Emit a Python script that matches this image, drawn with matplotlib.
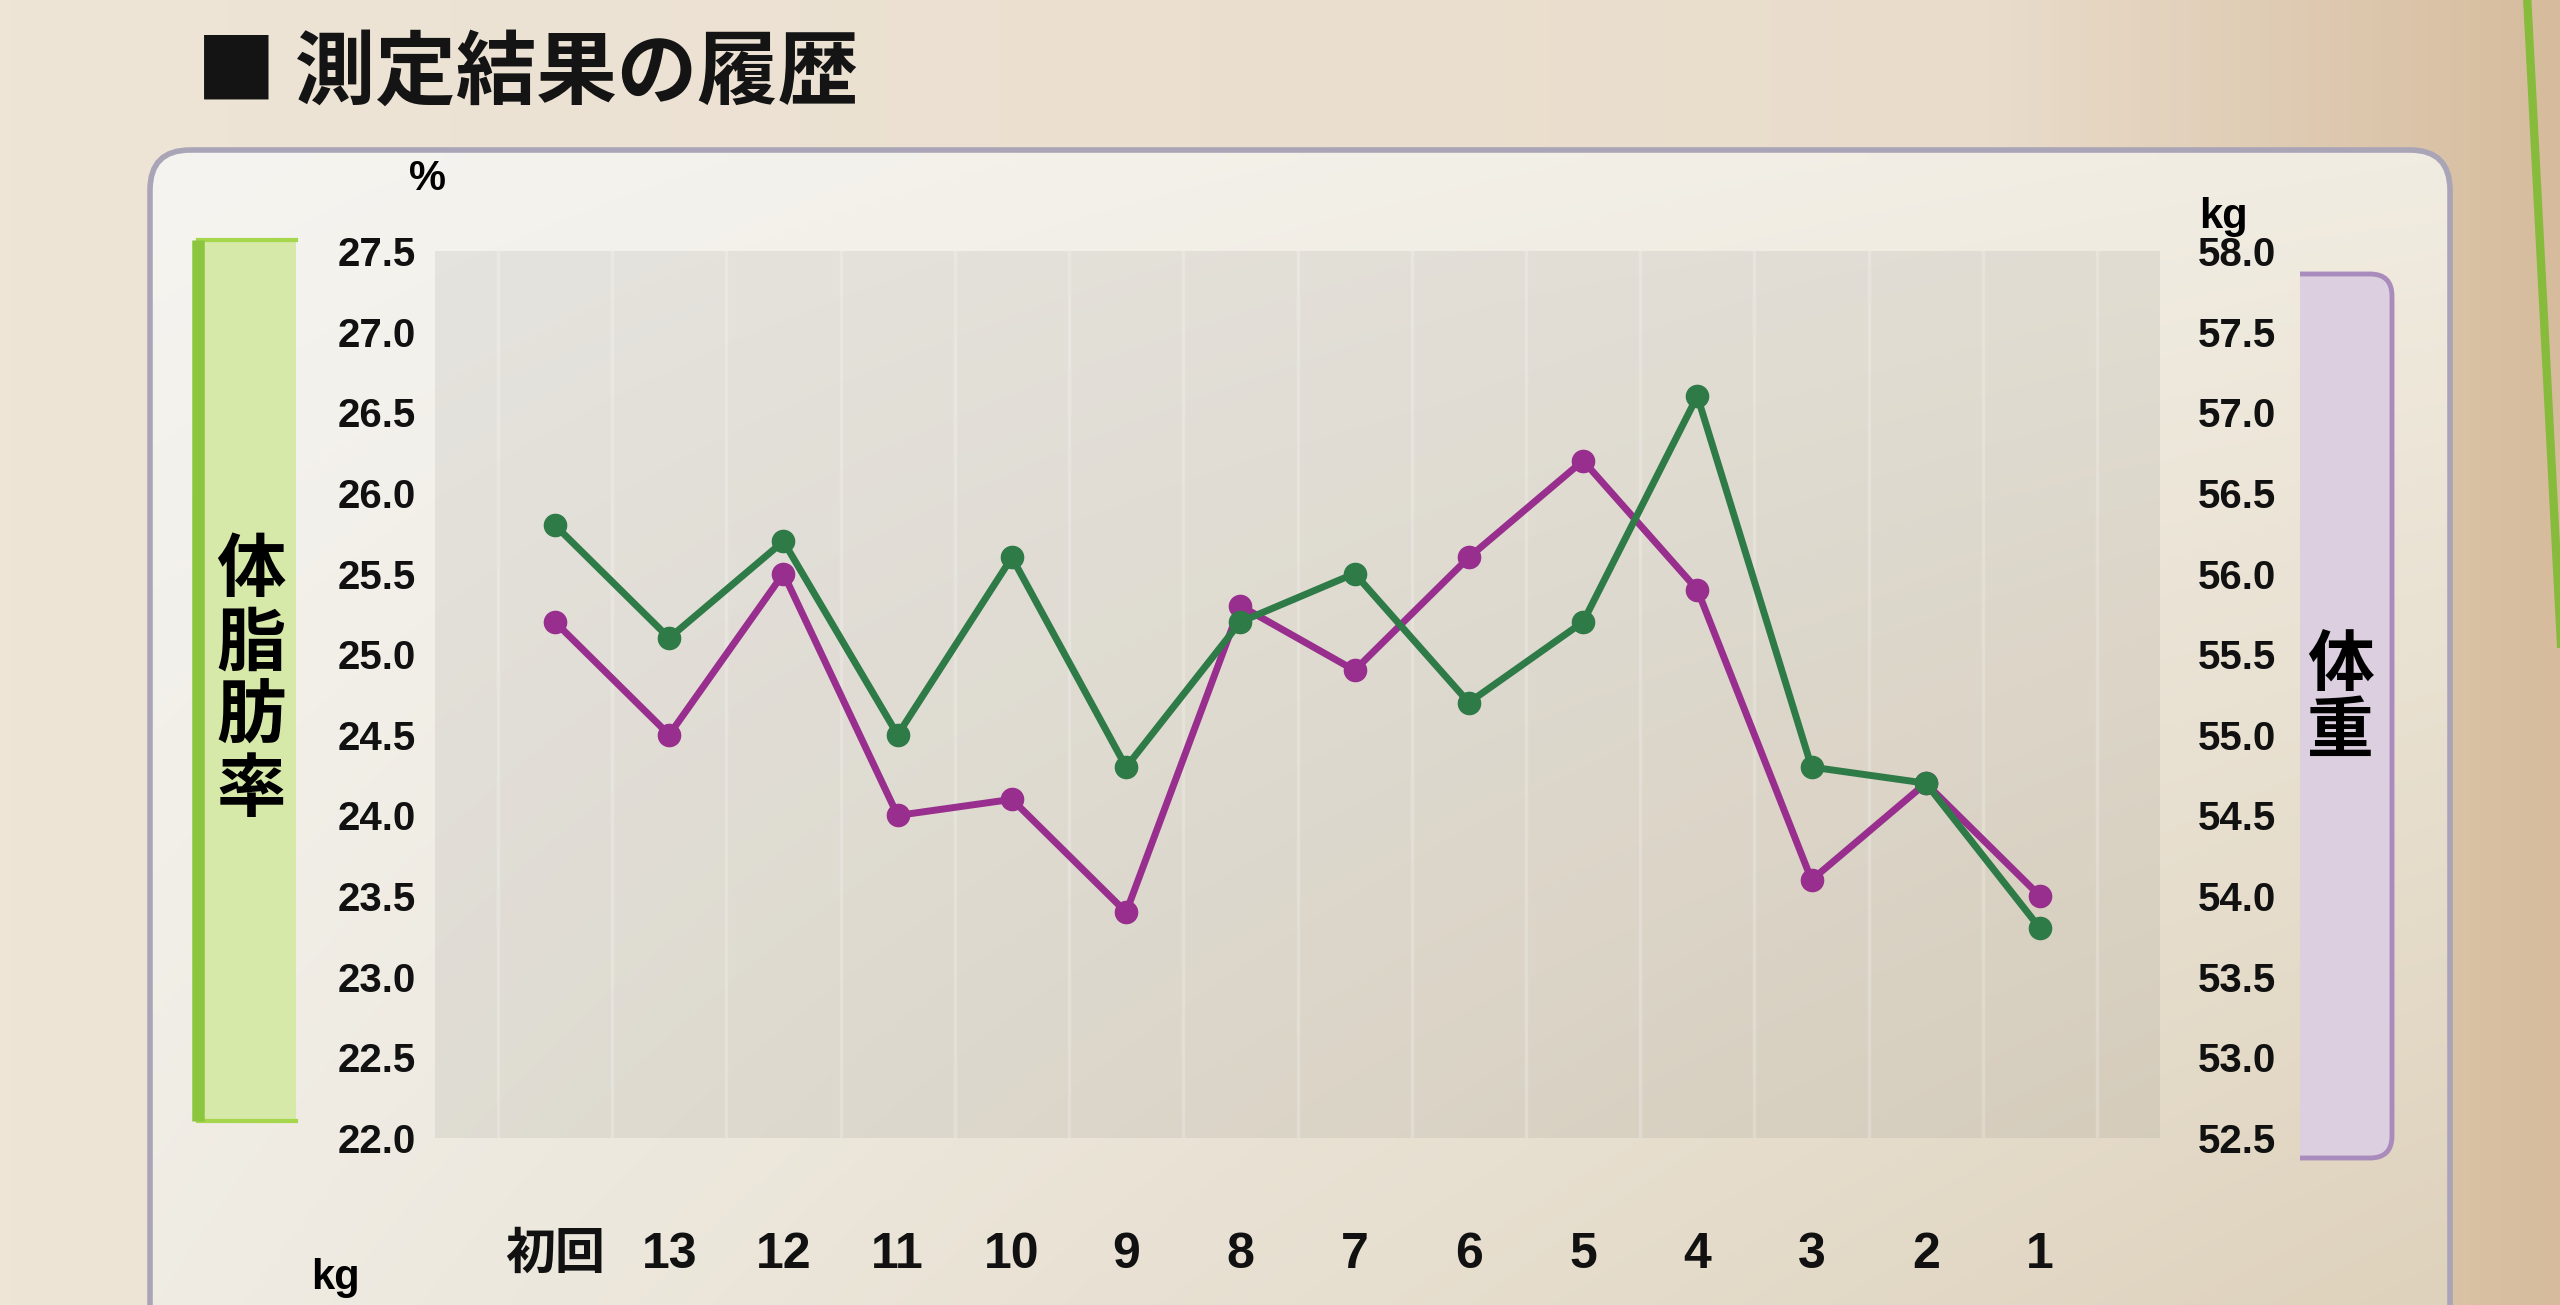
import numpy as np
import matplotlib
matplotlib.use("Agg")
import matplotlib.pyplot as plt
from matplotlib.patches import FancyBboxPatch, PathPatch, Rectangle
from matplotlib.path import Path
from matplotlib.colors import to_rgb

plt.rcParams['font.family'] = ['Liberation Sans', 'Noto Sans CJK JP']

# values, oldest (初回) on the left
sessions = ["初回", "13", "12", "11", "10", "9", "8", "7", "6", "5", "4", "3", "2", "1"]
body_fat = [25.8, 25.1, 25.7, 24.5, 25.6, 24.3, 25.2, 25.5, 24.7, 25.2, 26.6, 24.3, 24.2, 23.3]
weight = [55.7, 55.0, 56.0, 54.5, 54.6, 53.9, 55.8, 55.4, 56.1, 56.7, 55.9, 54.1, 54.7, 54.0]
fat_ticks = [22.0, 22.5, 23.0, 23.5, 24.0, 24.5, 25.0, 25.5, 26.0, 26.5, 27.0, 27.5]
weight_ticks = [52.5, 53.0, 53.5, 54.0, 54.5, 55.0, 55.5, 56.0, 56.5, 57.0, 57.5, 58.0]

GREEN = '#2f7b47'
PURPLE = '#982e8d'
CJK = 'Noto Sans CJK JP'

W, H = 2560, 1305
fig = plt.figure(figsize=(25.6, 13.05), dpi=100)

# STEP1: page background, panel and the coloured side labels (pixel coords)
bg = fig.add_axes([0, 0, 1, 1])
bg.axis('off')

stops = [to_rgb('#eee5d7'), to_rgb('#e9dccb'), to_rgb('#d6bc9d')]
xs = np.linspace(0, 1, 256)
paper = np.stack([np.interp(xs, [0, 0.78, 1.0], [s[c] for s in stops]) for c in range(3)], axis=-1)[None, :, :]
bg.imshow(paper, extent=(0, W, H, 0), aspect='auto', zorder=0)
bg.plot([2527, 2565], [-5, 720], color='#86bb3c', lw=6, zorder=1)

panel = FancyBboxPatch((150, 150), 2300, 1300, boxstyle="round,pad=0,rounding_size=40",
                       fc='none', ec='#a9a4b6', lw=4, zorder=3)
bg.add_patch(panel)
u = np.linspace(0, 1, 128)[None, :, None]
v = np.linspace(0, 1, 64)[:, None, None]
tl, tr = np.array(to_rgb('#f5f4f0')), np.array(to_rgb('#f1ece1'))
bl, br = np.array(to_rgb('#efebe2')), np.array(to_rgb('#dccfb8'))
shade = (1 - u) * (1 - v) * tl + u * (1 - v) * tr + (1 - u) * v * bl + u * v * br
im = bg.imshow(shade, extent=(150, 2450, 1450, 150), aspect='auto', zorder=2, interpolation='bilinear')
im.set_clip_path(panel)

# green bracket for 体脂肪率
gx0, gx1, gy0, gy1 = 198, 296, 240, 1121
bg.add_patch(Rectangle((gx0, gy0), gx1 - gx0, gy1 - gy0, fc='#d6e9a9', ec='none', zorder=4))
bg.plot([gx1, gx0], [gy0, gy0], color='#a5d64c', lw=3, zorder=5)
bg.plot([gx0, gx1], [gy1, gy1], color='#a5d64c', lw=3, zorder=5)
bg.plot([gx0, gx0], [gy0, gy1], color='#8cc63f', lw=9, solid_capstyle='butt', zorder=5)
bg.text((gx0 + gx1) / 2 + 4, (gy0 + gy1) / 2, '体\n脂\n肪\n率', ha='center', va='center',
        fontsize=50, family=CJK, fontweight='bold', linespacing=1.05, zorder=6)

# purple bracket for 体重
px0, px1, py0, py1, r = 2300, 2392, 274, 1158, 22
verts = [(px0, py0), (px1 - r, py0), (px1, py0), (px1, py0 + r),
         (px1, py1 - r), (px1, py1), (px1 - r, py1), (px0, py1)]
codes = [Path.MOVETO, Path.LINETO, Path.CURVE3, Path.CURVE3,
         Path.LINETO, Path.CURVE3, Path.CURVE3, Path.LINETO]
bg.add_patch(PathPatch(Path(verts + [(px0, py0)], codes + [Path.CLOSEPOLY]), fc='#dccfe0', ec='none', zorder=4))
bg.add_patch(PathPatch(Path(verts, codes), fc='none', ec='#a98cbb', lw=3.5, zorder=5))
bg.text(2340, 699, '体\n重', ha='center', va='center', fontsize=48, family=CJK,
        fontweight='bold', linespacing=1.0, zorder=6)

bg.text(196, 74, '■ 測定結果の履歴', ha='left', va='center', fontsize=58, family=CJK,
        fontweight='bold', color='#141414', zorder=6)
bg.text(428, 179, '%', ha='center', va='center', fontsize=30, fontweight='bold', zorder=6)
bg.text(2223, 217, 'kg', ha='center', va='center', fontsize=30, fontweight='bold', zorder=6)
bg.text(335, 1298, 'kg', ha='center', va='bottom', fontsize=30, fontweight='bold', zorder=6)

bg.set_xlim(0, W)
bg.set_ylim(H, 0)

# STEP2: the chart itself
left, right, top, bottom = 435, 2160, 251, 1138
ax = fig.add_axes([left / W, 1 - bottom / H, (right - left) / W, (bottom - top) / H])
ax.set_facecolor((0.42, 0.42, 0.40, 0.11))
ax2 = ax.twinx()

x = np.arange(len(sessions))
for b in np.arange(-0.5, len(sessions), 1.0):
    ax.axvline(b, color='white', lw=2.5, alpha=0.22, zorder=1)

ax.plot(x, weight, color=PURPLE, lw=5, marker='o', ms=16, zorder=3)
ax2.plot(x, body_fat, color=GREEN, lw=5, marker='o', ms=16, zorder=3)

ax.set_xlim(-1.05, 14.05)
ax.set_ylim(weight_ticks[0], weight_ticks[-1])
ax2.set_ylim(fat_ticks[0], fat_ticks[-1])

ax.yaxis.tick_right()
ax2.yaxis.tick_left()
ax.set_yticks(weight_ticks)
ax.set_yticklabels([f"{t:.1f}" for t in weight_ticks], fontsize=29, fontweight='bold')
ax2.set_yticks(fat_ticks)
ax2.set_yticklabels([f"{t:.1f}" for t in fat_ticks], fontsize=29, fontweight='bold')
ax.tick_params(axis='y', length=0, pad=27, colors='#111111')
ax2.tick_params(axis='y', length=0, pad=14, colors='#111111')

ax.set_xticks(x)
ax.set_xticklabels(sessions, fontsize=36, fontweight='bold')
ax.tick_params(axis='x', length=0, pad=68, colors='#111111')

for a in (ax, ax2):
    for s in a.spines.values():
        s.set_visible(False)

plt.savefig("out.png", dpi=100)
